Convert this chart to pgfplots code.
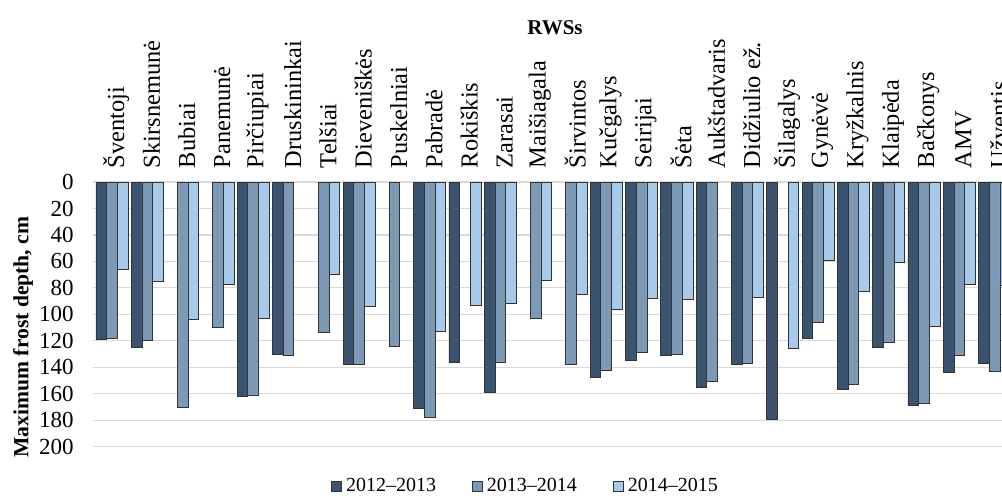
\documentclass[border=0pt]{standalone}
\usepackage{fontspec}
\setmainfont{Liberation Serif}
\usepackage{pgfplots}
\pgfplotsset{compat=1.18}
\usetikzlibrary{calc}
\definecolor{cA}{RGB}{58,83,112}
\definecolor{cB}{RGB}{124,153,182}
\definecolor{cC}{RGB}{167,201,234}
\newcommand\lf{\fontsize{12.2}{13}\selectfont}
\newcommand\tf{\fontsize{11.5}{12}\selectfont}
\begin{document}
\begin{tikzpicture}
\begin{axis}[
  scale only axis, width=454.5pt, height=132.35pt,
  xmin=-0.538, xmax=25.21, ymin=0, ymax=200, y dir=reverse,
  ybar, bar width=0.303,
  xtick={0.12,1.12,2.12,3.12,4.12,5.12,6.12,7.12,8.12,9.12,10.12,11.12,12.12,13.12,14.12,15.12,16.12,17.12,18.12,19.12,20.12,21.12,22.12,23.12,24.12,25.12},
  xticklabels={{\lf Šventoji}, {\lf Skirsnemunė}, {\lf Bubiai}, {\lf Panemunė}, {\lf Pirčiupiai}, {\lf Druskininkai}, {\lf Telšiai}, {\lf Dieveniškės}, {\lf Puskelniai}, {\lf Pabradė}, {\lf Rokiškis}, {\lf Zarasai}, {\lf Maišiagala}, {\lf Širvintos}, {\lf Kučgalys}, {\lf Seirijai}, {\lf Šėta}, {\lf Aukštadvaris}, {\lf Didžiulio ež.}, {\lf Šilagalys}, {\lf Gynėvė}, {\lf Kryžkalnis}, {\lf Klaipėda}, {\lf Bačkonys}, {\lf AMV}, {\lf Užventis}},
  xticklabel pos=upper,
  x tick label style={rotate=90, anchor=west, inner sep=0pt},
  xticklabel shift=2.5pt,
  ytick={0,20,40,60,80,100,120,140,160,180,200},
  yticklabels={{\tf 0},{\tf 20},{\tf 40},{\tf 60},{\tf 80},{\tf 100},{\tf 120},{\tf 140},{\tf 160},{\tf 180},{\tf 200}},
  y tick label style={anchor=east, inner sep=0pt, xshift=-9.5pt},
  ymajorgrids, grid style={draw=black!15, line width=0.6pt},
  axis line style={draw=none}, tick style={draw=none},
  legend style={at={(axis description cs:0.477,0)}, anchor=center, yshift=-20pt, draw=none, fill=none,
    legend columns=3, font=\fontsize{10}{12}\selectfont,
    /tikz/every even column/.append style={column sep=16pt}},
  legend image code/.code={\draw[#1, draw=black!80, line width=0.4pt] (0pt,-2.5pt) rectangle (5pt,2.5pt);},
]
\addplot[fill=cA, draw=black!80, line width=0.4pt, bar shift=-0.303] coordinates {(0,119)(1,125)(4,162)(5,130)(7,138)(9,171)(10,136)(11,159)(14,148)(15,135)(16,131)(17,155)(18,138)(19,179)(20,118)(21,157)(22,125)(23,169)(24,144)(25,137)};
\addplot[fill=cB, draw=black!80, line width=0.4pt, bar shift=0] coordinates {(0,118)(1,120)(2,170)(3,110)(4,161)(5,131)(6,114)(7,138)(8,124)(9,178)(11,136)(12,103)(13,138)(14,142)(15,129)(16,130)(17,151)(18,137)(20,106)(21,153)(22,121)(23,167)(24,131)(25,143)};
\addplot[fill=cC, draw=black!80, line width=0.4pt, bar shift=0.303] coordinates {(0,66)(1,75)(2,104)(3,77)(4,103)(6,70)(7,94)(9,113)(10,93)(11,92)(12,74)(13,85)(14,96)(15,88)(16,89)(18,87)(19,126)(20,59)(21,83)(22,61)(23,109)(24,77)(25,78)};
\legend{2012--2013, 2013--2014, 2014--2015}
\coordinate (TL) at (axis cs:-0.538,0);
\end{axis}
\node[font=\bfseries\fontsize{10.5}{12}\selectfont] at ($(TL)+(231pt,77pt)$) {RWSs};
\node[rotate=90, font=\bfseries\fontsize{10.8}{13}\selectfont] at ($(TL)+(-35pt,-77.5pt)$) {Maximum frost depth, cm};
\pgfresetboundingbox
\path[use as bounding box] ($(TL)+(-46.5pt,91pt)$) rectangle ($(TL)+(454.5pt,-156.5pt)$);
\end{tikzpicture}
\end{document}
